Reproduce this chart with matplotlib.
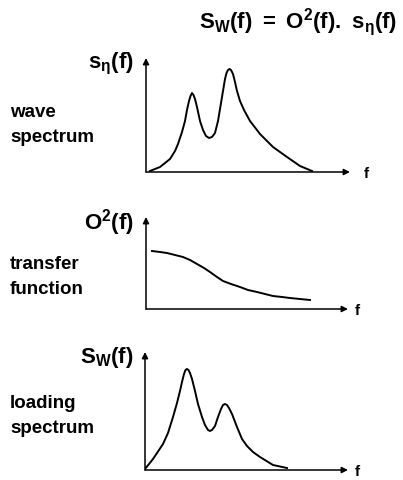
import matplotlib
matplotlib.use("Agg")
from matplotlib import pyplot as plt

plt.rcParams['font.family'] = ['Liberation Sans', 'DejaVu Sans']
plt.rcParams['font.weight'] = 'bold'
plt.rcParams['mathtext.fontset'] = 'custom'
plt.rcParams['mathtext.rm'] = 'Liberation Sans:bold'
plt.rcParams['mathtext.it'] = 'Liberation Sans:bold'
plt.rcParams['mathtext.bf'] = 'Liberation Sans:bold'

W, H = 403, 481

# curves (frequency, value), in arbitrary schematic units
wave_f = [4, 14, 24, 29, 32, 36, 39, 41, 43, 44.5, 46, 47.5, 49, 51, 54, 57, 60, 63,
          66, 69, 72, 75, 77, 79, 80.5, 82, 83.5, 85, 87, 89, 91, 94, 98, 104, 114,
          127, 141, 154, 166]
wave_s = [1, 5, 13, 21, 28, 40, 51, 62, 71, 76, 79, 77, 73, 65, 51, 42, 36, 34,
          35, 39, 51, 69, 81, 93, 99, 102, 103, 102, 98, 90, 81, 71, 62, 51, 38,
          25, 15, 6, 1]

transfer_f = [6, 14, 21, 29, 37, 44, 51, 58, 64, 71, 77, 85, 94, 102, 111, 119,
              127, 136, 144, 154, 164]
transfer_o = [58, 57, 56, 54, 52, 49, 45, 41, 37, 32, 28, 25, 22, 19, 17, 15,
              13, 12, 11, 10, 9]

load_f = [0, 8, 18, 23, 28, 32, 35, 37, 39, 40.5, 42, 43.5, 45, 47, 50, 53, 57, 60,
          63, 65, 67, 70, 73, 76, 78, 80, 82, 84, 87, 92, 97, 102, 108, 115, 128, 142]
load_s = [1, 11, 26, 37, 53, 67, 79, 88, 96, 100, 101, 100, 97, 91, 79, 66, 53, 45,
          40, 39, 40, 44, 53, 61, 65, 66, 65, 62, 56, 43, 31, 24, 18, 13, 5, 2]

panels = [
    # origin x, origin y, top y, arrow end x, f label x, f, values, y label, side text, side y
    (146, 173, 59, 350, 366, wave_f, wave_s, r'$\mathrm{s_{\eta}(f)}$',
     'wave\nspectrum', 125),
    (146, 310, 218, 348, 357, transfer_f, transfer_o, r'$\mathrm{O^2(f)}$',
     'transfer\nfunction', 277),
    (145, 471, 353, 348, 357, load_f, load_s, r'$\mathrm{S_W(f)}$',
     'loading\nspectrum', 416),
]

fig = plt.figure(figsize=(W / 100, H / 100), dpi=100)

for ox, oy, top, right, flx, fx, fy, ylab, side, side_y in panels:
    ax = fig.add_axes([ox / W, 1 - oy / H, (right - ox) / W, (oy - top) / H])
    ax.set_xlim(0, right - ox)
    ax.set_ylim(0, oy - top)
    ax.axis('off')
    ax.plot(fx, fy, color='black', linewidth=1.4, solid_joinstyle='round')
    arrow = dict(arrowstyle='-|>', color='black', linewidth=1.1,
                 mutation_scale=9, shrinkA=0, shrinkB=0)
    ax.annotate('', xy=(0, 1), xytext=(0, 0), xycoords='axes fraction',
                arrowprops=arrow, annotation_clip=False)
    ax.annotate('', xy=(1, 0), xytext=(0, 0), xycoords='axes fraction',
                arrowprops=arrow, annotation_clip=False)
    fig.text(flx / W, 1 - (oy + 1) / H, 'f', ha='center', va='center',
             fontsize=11)
    fig.text((ox - 12) / W, 1 - (top + 5) / H, ylab, ha='right', va='center',
             fontsize=16)
    fig.text(10 / W, 1 - side_y / H, side, ha='left', va='center',
             fontsize=13.5, linespacing=1.6)

fig.text(397 / W, 1 - 22 / H, r'$\mathrm{S_W(f)\ =\ O^2(f).\ s_{\eta}(f)}$',
         ha='right', va='center', fontsize=16)

fig.savefig('out.png', dpi=100, facecolor='white')
